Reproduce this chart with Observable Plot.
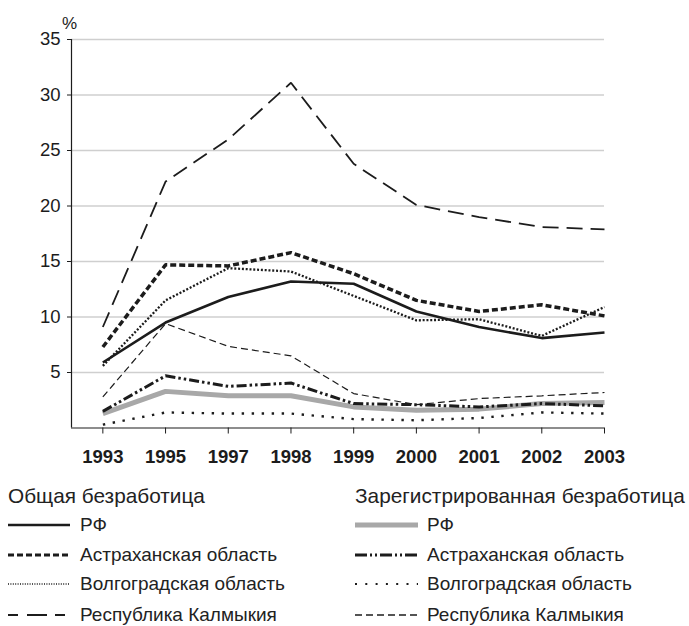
<!DOCTYPE html>
<html>
<head>
<meta charset="utf-8">
<script src="https://cdn.jsdelivr.net/npm/d3@7"></script>
<script src="https://cdn.jsdelivr.net/npm/@observablehq/plot@0.6"></script>
<style>
  body { margin: 0; background: #fff; font-family: "Liberation Sans", Arial, sans-serif; color: #222; }
  #wrap { position: relative; width: 689px; height: 626px; }
  #chart { position: absolute; left: 0; top: 0; }
  .lg { position: absolute; font-size: 19px; line-height: 1; white-space: nowrap; }
  .lg svg { position: absolute; }
</style>
</head>
<body>
<div id="wrap"><div id="chart"></div></div>
<script>
const years = ["1993","1995","1997","1998","1999","2000","2001","2002","2003"];
const yTicks = [5, 10, 15, 20, 25, 30, 35];

// Общая безработица
const totalRF   = [5.9, 9.5, 11.8, 13.2, 13.0, 10.5, 9.1, 8.1, 8.6];
const totalAstr = [7.3, 14.7, 14.6, 15.8, 13.9, 11.5, 10.5, 11.1, 10.1];
const totalVolg = [5.6, 11.5, 14.4, 14.1, 11.9, 9.7, 9.8, 8.3, 10.9];
const totalKalm = [9.1, 22.2, 26.0, 31.1, 23.8, 20.1, 19.0, 18.1, 17.9];
// Зарегистрированная безработица
const regRF   = [1.3, 3.3, 2.9, 2.9, 1.9, 1.6, 1.7, 2.2, 2.3];
const regAstr = [1.5, 4.7, 3.75, 4.05, 2.2, 2.1, 1.9, 2.2, 2.0];
const regVolg = [0.3, 1.4, 1.3, 1.3, 0.8, 0.7, 0.9, 1.4, 1.3];
const regKalm = [2.8, 9.4, 7.35, 6.5, 3.1, 2.1, 2.65, 2.9, 3.2];

const groupTitles = ["Общая безработица", "Зарегистрированная безработица"];
const regionNames = ["РФ", "Астраханская область", "Волгоградская область", "Республика Калмыкия"];

const ink = "#1c1c1c";
const styles = {
  totalRF:   {stroke: ink, strokeWidth: 2.6},
  totalAstr: {stroke: ink, strokeWidth: 3.5, strokeDasharray: "6,3"},
  totalVolg: {stroke: ink, strokeWidth: 2.3, strokeDasharray: "2,1.8"},
  totalKalm: {stroke: ink, strokeWidth: 1.8, strokeDasharray: "16,8"},
  regRF:     {stroke: "#a8a8a8", strokeWidth: 5},
  regAstr:   {stroke: ink, strokeWidth: 3, strokeDasharray: "10,3,2.5,3,2.5,3"},
  regVolg:   {stroke: ink, strokeWidth: 2.4, strokeDasharray: "2.4,7.6"},
  regKalm:   {stroke: ink, strokeWidth: 1.2, strokeDasharray: "7,4"}
};
const seriesData = {totalRF, totalAstr, totalVolg, totalKalm, regRF, regAstr, regVolg, regKalm};
const drawOrder = ["totalKalm", "regKalm", "regVolg", "regRF", "regAstr", "totalVolg", "totalAstr", "totalRF"];

const rows = s => seriesData[s].map((v, i) => ({x: i, year: years[i], value: v}));

const plot = Plot.plot({
  width: 689,
  height: 470,
  marginLeft: 71,
  marginRight: 85,
  marginTop: 39,
  marginBottom: 42.5,
  style: {fontFamily: "'Liberation Sans', Arial, sans-serif", color: ink, background: "#fff"},
  x: {type: "linear", domain: [-0.5, years.length - 1]},
  y: {domain: [0, 35]},
  marks: [
    Plot.gridY(yTicks, {stroke: "#cfcfcf", strokeOpacity: 1, strokeWidth: 1.3}),
    Plot.axisY(yTicks, {tickSize: 4, tickPadding: 7, fontSize: 18.5, label: null, stroke: ink}),
    Plot.axisX(d3.range(years.length), {tickSize: 6, tickPadding: 16, fontSize: 18.5, fontWeight: "bold",
      tickFormat: i => years[i], label: null, stroke: ink}),
    Plot.ruleY([0], {stroke: ink, strokeWidth: 1.2}),
    Plot.ruleX([-0.5], {stroke: ink, strokeWidth: 1.2}),
    Plot.text(["%"], {frameAnchor: "top-left", dx: -2, dy: -11, textAnchor: "middle", lineAnchor: "bottom", fontSize: 17, fill: ink}),
    ...drawOrder.map(s => Plot.line(rows(s), {x: "x", y: "value", ...styles[s], strokeLinecap: "butt", strokeLinejoin: "miter"}))
  ]
});
document.getElementById("chart").appendChild(plot);

// Legend (HTML below the SVG)
const wrap = document.getElementById("wrap");
const legendSamples = {
  totalRF:   {w: 2.6},
  totalAstr: {w: 3.2, d: "6,3"},
  totalVolg: {w: 1.6, d: "1,1.4"},
  totalKalm: {w: 1.8, d: "10,9,20,8,10,99"},
  regRF:     {w: 5, c: "#a8a8a8"},
  regAstr:   {w: 3, d: "12,3,2,3,2,3"},
  regVolg:   {w: 2, d: "2,8.3"},
  regKalm:   {w: 1.4, d: "7,4"}
};
const cols = [
  {keys: ["totalRF", "totalAstr", "totalVolg", "totalKalm"], titleX: 8, lineX: 8, lineW: 62, textX: 80},
  {keys: ["regRF", "regAstr", "regVolg", "regKalm"], titleX: 355, lineX: 355, lineW: 63, textX: 427}
];
const rowY = [525, 555, 584, 615];
cols.forEach((col, ci) => {
  const t = document.createElement("div");
  t.className = "lg";
  t.style.left = col.titleX + "px";
  t.style.top = (497 - 11) + "px";
  t.style.fontSize = "20.8px";
  t.textContent = groupTitles[ci];
  wrap.appendChild(t);
  col.keys.forEach((k, ri) => {
    const s = legendSamples[k];
    const ns = "http://www.w3.org/2000/svg";
    const svg = document.createElementNS(ns, "svg");
    svg.setAttribute("width", col.lineW);
    svg.setAttribute("height", 10);
    svg.style.position = "absolute";
    svg.style.left = col.lineX + "px";
    svg.style.top = (rowY[ri] - 5) + "px";
    const ln = document.createElementNS(ns, "line");
    ln.setAttribute("x1", 0); ln.setAttribute("x2", col.lineW);
    ln.setAttribute("y1", 5); ln.setAttribute("y2", 5);
    ln.setAttribute("stroke", s.c || ink);
    ln.setAttribute("stroke-width", s.w);
    if (s.d) ln.setAttribute("stroke-dasharray", s.d);
    svg.appendChild(ln);
    wrap.appendChild(svg);
    const lab = document.createElement("div");
    lab.className = "lg";
    lab.style.left = col.textX + "px";
    lab.style.top = (rowY[ri] - 10) + "px";
    lab.textContent = regionNames[ri];
    wrap.appendChild(lab);
  });
});
</script>
</body>
</html>
